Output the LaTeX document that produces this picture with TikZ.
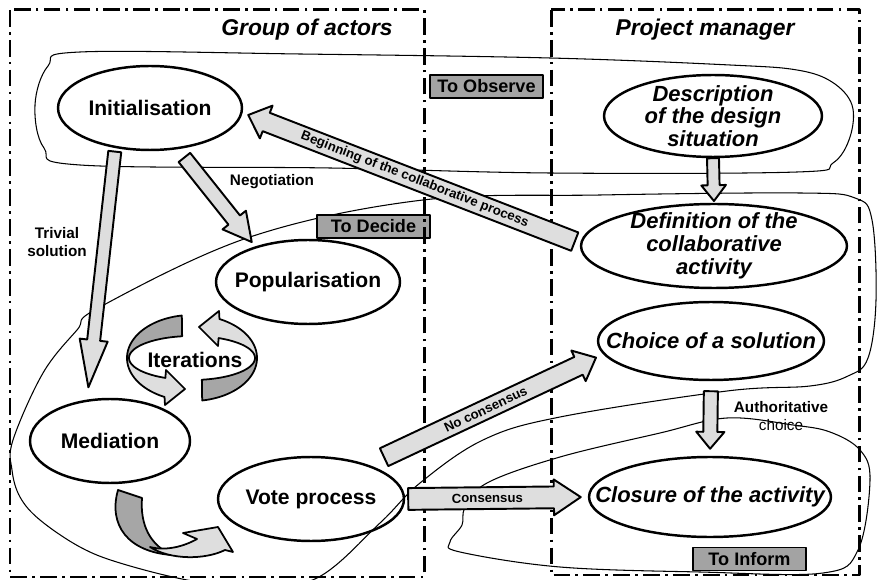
\documentclass[tikz,border=0pt]{standalone}
\usepackage{fontspec}
\setmainfont{Liberation Sans}
\usetikzlibrary{
    calc,
    shapes.geometric
}
\definecolor{arrowgrey}{HTML}{DEDEDE}
\definecolor{darkgrey}{HTML}{A6A6A6}
\definecolor{taggrey}{HTML}{A3A3A3}
\tikzset{
    every picture/.style = {
        line join = round
    },
    stage/.style = {
        ellipse,
        draw,
        line width = 1.4pt,
        inner sep = 0pt
    },
    stagetext/.style = {
        font = \fontsize{12}{13}\selectfont\bfseries,
        align = center,
        inner sep = 0pt
    },
    pmtext/.style = {
        font = \fontsize{12.5}{13}\selectfont\bfseries\itshape,
        align = center,
        inner sep = 0pt
    },
    lane/.style = {
        line width = 1.7pt,
        dash pattern = on 9.5pt off 3pt on 1.5pt off 3pt
    },
    lanetitle/.style = {
        font = \fontsize{13}{15}\selectfont\bfseries\itshape
    },
    region/.style = {line width = 0.6pt},
    tag/.style = {
        draw,
        line width = 0.7pt,
        fill = taggrey,
        minimum width = 2.26cm,
        minimum height = 0.46cm,
        inner sep = 0pt,
        font = \fontsize{10.3}{12}\selectfont\bfseries
    },
    blockarrow/.style = {
        draw,
        line width = 1.1pt,
        fill = arrowgrey
    },
    ribbon/.style = {draw, line width = 1pt},
    note/.style = {
        font = \fontsize{8.7}{10}\selectfont\bfseries,
        align = center,
        inner sep = 0pt
    },
    onarrow/.style = {
        sloped,
        inner sep = 0pt,
        font = \fontsize{7.5}{9}\selectfont\bfseries
    }
}
% [style]{from}{to}{start gap}{end gap}{half shaft}{half head}{head length}
\newcommand{\blockarrow}[8][]{%
    \path[blockarrow, #1] let \p1 = #2, \p2 = #3,
        \n1 = {atan2(\y2-\y1,\x2-\x1)}, \n2 = {veclen(\x2-\x1,\y2-\y1)-#5} in
        [shift = {(\p1)}, rotate = \n1]
        (#4,-#6) -- (\n2-#8,-#6) -- (\n2-#8,-#7) -- (\n2,0pt) --
        (\n2-#8,#7) -- (\n2-#8,#6) -- (#4,#6) -- cycle;}

\begin{document}
\begin{tikzpicture}[x = 0.02cm, y = -0.02cm]
    \useasboundingbox (0,0) rectangle (878,580);

    % regions
    \draw[region] plot[smooth cycle, tension = 0.6] coordinates {
        (80,52) (300,54) (550,58) (730,65) (797,70) (832,82) (852,105)
        (850,137) (833,163) (797,172) (550,173) (330,168) (80,165)
        (44,148) (35,105) (48,66)};
    \draw[region] plot[smooth cycle, tension = 0.6] coordinates {
        (77,330) (43,373) (13,440) (12,470) (20,497) (40,520) (80,547)
        (120,563) (187,580) (250,588) (317,578) (380,523) (420,483)
        (483,440) (560,417) (727,391) (810,386) (848,376) (868,358)
        (876,300) (872,220) (855,198) (800,193) (600,195) (423,200)
        (250,237) (100,307)};
    \draw[region] plot[smooth cycle, tension = 0.6] coordinates {
        (465,508) (462,525) (450,542) (460,552) (560,567) (700,572)
        (823,573) (858,550) (870,480) (860,450) (830,432) (793,425)
        (727,418) (660,433) (560,457) (487,483)};

    \node[tag] (observe) at (486.5,86.5) {To Observe};
    \node[tag] (decide) at (373.5,226.5) {To Decide};
    \node[tag] (inform) at (749.5,559) {To Inform};

    % lanes
    \draw[lane] (10,10) rectangle (424,577);
    \draw[lane] (551,10) rectangle (859,575);
    \node[lanetitle] (actors) at (307,30) {Group of actors};
    \node[lanetitle] (manager) at (705,30) {Project manager};

    % stages
    \node[stage, minimum width = 3.68cm, minimum height = 1.68cm,
        label = {[stagetext]center:Initialisation}] (ini) at (150,108) {};
    \node[stage, minimum width = 3.68cm, minimum height = 1.68cm,
        label = {[stagetext]center:Popularisation}] (pop) at (308,282) {};
    \node[stage, minimum width = 3.2cm, minimum height = 1.68cm,
        label = {[stagetext]center:Mediation}] (med) at (110,441) {};
    \node[stage, minimum width = 3.72cm, minimum height = 1.68cm,
        label = {[stagetext]center:Vote process}] (vote) at (311,499) {};
    \node[stage, minimum width = 4.36cm, minimum height = 1.64cm,
        label = {[pmtext]center:Description\\of the design\\situation}] (desc) at (713,116) {};
    \node[stage, minimum width = 5.32cm, minimum height = 1.68cm,
        label = {[pmtext]center:Definition of the\\collaborative\\activity}] (defn) at (714,246) {};
    \node[stage, minimum width = 4.52cm, minimum height = 1.56cm,
        label = {[pmtext]center:Choice of a solution}] (choice) at (711,341) {};
    \node[stage, minimum width = 4.84cm, minimum height = 1.60cm,
        label = {[pmtext]center:Closure of the activity}] (closure) at (710,497) {};

    % iterations
    \path[ribbon, fill = darkgrey]
        plot[domain = 261:180, samples = 25] ({192 + 65*cos(\x)}, {358 + 43*sin(\x)}) --
        plot[domain = 180:261, samples = 25] ({192 + 63*cos(\x)}, {358 + 22*sin(\x)}) -- cycle;
    \path[ribbon, fill = arrowgrey]
        plot[domain = 180:115, samples = 20] ({192 + 65*cos(\x)}, {358 + 43*sin(\x)}) --
        (165,405) -- (185,389) -- (166,370) --
        plot[domain = 115:180, samples = 20] ({192 + 63*cos(\x)}, {358 + 22*sin(\x)}) -- cycle;
    \path[ribbon, fill = darkgrey]
        plot[domain = 81:0, samples = 25] ({192 + 65*cos(\x)}, {358 + 43*sin(\x)}) --
        plot[domain = 0:81, samples = 25] ({192 + 63*cos(\x)}, {358 + 22*sin(\x)}) -- cycle;
    \path[ribbon, fill = arrowgrey]
        plot[domain = 360:295, samples = 20] ({192 + 65*cos(\x)}, {358 + 43*sin(\x)}) --
        (219,311) -- (199,327) -- (218,346) --
        plot[domain = 295:360, samples = 20] ({192 + 63*cos(\x)}, {358 + 22*sin(\x)}) -- cycle;
    \node[stagetext] (iter) at (195,360) {Iterations};

    % mediation to vote
    \path[ribbon, fill = darkgrey] (118,490) .. controls (108,525) and (128,552) .. (172,555)
        .. controls (150,545) and (140,525) .. (142,498) -- cycle;
    \path[ribbon, fill = arrowgrey] (150,547) .. controls (170,560) and (205,560) .. (225,550)
        -- (233,552) -- (218,527) -- (183,533) -- (197,539)
        .. controls (183,547) and (165,551) .. (150,547) -- cycle;

    % block arrows
    \blockarrow{(ini.229)}{(med.119)}{2pt}{7pt}{3.7pt}{8pt}{27pt}
    \blockarrow{(ini.304)}{(pop.146)}{6pt}{3pt}{4.2pt}{8.5pt}{16pt}
    \blockarrow{(defn.179)}{(ini.357)}{3.2pt}{3.4pt}{5.6pt}{10pt}{11pt}
    \blockarrow{(desc.south)}{(defn.north)}{0pt}{1pt}{3.4pt}{7pt}{9pt}
    \blockarrow{(choice.south)}{(closure.north)}{5.7pt}{4pt}{4pt}{8pt}{9.6pt}
    \blockarrow{(vote.31)}{(choice.187)}{10pt}{4.5pt}{5.6pt}{9.6pt}{11pt}
    \blockarrow{(vote.east)}{(closure.west)}{1.7pt}{4pt}{6.2pt}{10.2pt}{15.3pt}

    \path (defn.179) -- (ini.357) node[onarrow, pos = 0.49] (begin) {Beginning of the collaborative process};
    \path (vote.31) -- (choice.187) node[onarrow, pos = 0.5] (nocons) {No consensus};
    \path (vote.east) -- (closure.west) node[onarrow, pos = 0.45] (cons) {Consensus};

    \node[note] (trivial) at (57,242) {Trivial\\solution};
    \node[note] (nego) at (272,182) {Negotiation};
    \node[note] (auth) at (781,416) {Authoritative\\{\mdseries choice}};
\end{tikzpicture}
\end{document}
